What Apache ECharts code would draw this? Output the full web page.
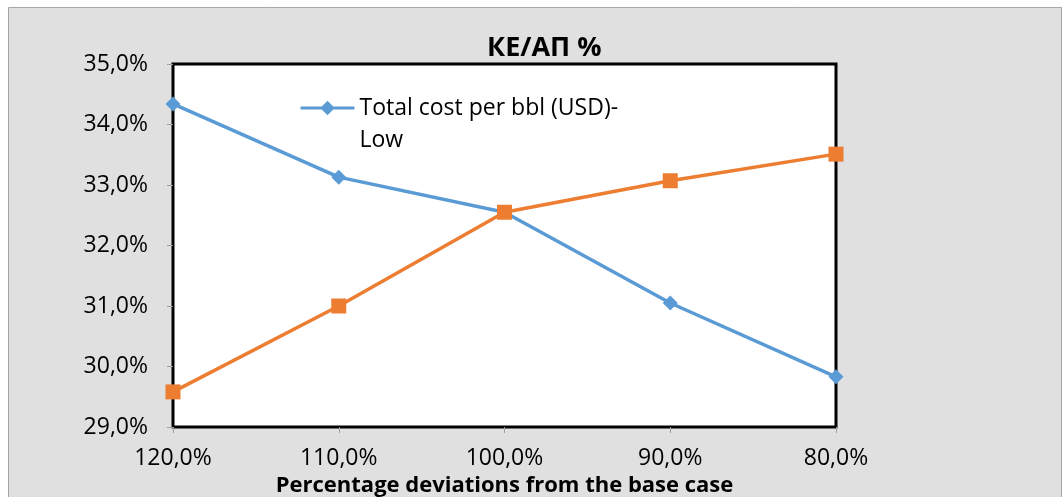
<!DOCTYPE html>
<html>
<head>
<meta charset="utf-8">
<script src="https://cdn.jsdelivr.net/npm/echarts@6/dist/echarts.min.js"></script>
<style>
  html, body { margin: 0; padding: 0; background: #ffffff; }
  #chart { width: 1062px; height: 497px; }
</style>
</head>
<body>
<div id="chart"></div>
<script>
// Deviation steps along the x axis
const categories = ['120,0%', '110,0%', '100,0%', '90,0%', '80,0%'];
// КЕ/АП ratio, in percent
const lowSeries = [34.34, 33.13, 32.55, 31.05, 29.83];
const highSeries = [29.58, 31.0, 32.55, 33.07, 33.51];
// Y axis range and step (percent)
const yMin = 29, yMax = 35, yStep = 1;

const FONT = '"Open Sans", "Noto Sans", sans-serif';
const fmtPct = v => v.toFixed(1).replace('.', ',') + '%';

const chart = echarts.init(document.getElementById('chart'), null, { renderer: 'canvas' });
chart.setOption({
  backgroundColor: '#ffffff',
  animation: false,
  graphic: [{
    type: 'rect',
    left: 8, top: 7, z: -10,
    shape: { width: 1053, height: 500 },
    style: { fill: '#e0e0e0', stroke: '#a6a6a6', lineWidth: 1 }
  }],
  title: {
    text: 'КЕ/АП %',
    left: 487, top: 35, padding: 0,
    textStyle: { fontFamily: FONT, fontWeight: 'bold', fontSize: 27, color: '#000' }
  },
  legend: {
    data: ['Total cost per bbl (USD)-Low'],
    left: 299, top: 60, padding: 0,
    itemWidth: 54, itemHeight: 18,
    lineStyle: { width: 3 },
    // leading blank line keeps the icon level with the first text line
    formatter: () => '\nTotal cost per bbl (USD)-\nLow',
    textStyle: { fontFamily: FONT, fontSize: 23, color: '#000', lineHeight: 32 }
  },
  grid: {
    left: 173, right: 226, top: 64, bottom: 70,
    outerBoundsMode: 'none',
    show: true, backgroundColor: '#ffffff',
    borderColor: '#000000', borderWidth: 3
  },
  xAxis: {
    type: 'category',
    data: categories,
    boundaryGap: false,
    name: 'Percentage deviations from the base case',
    nameLocation: 'middle',
    nameGap: 37,
    nameTextStyle: { fontFamily: FONT, fontWeight: 'bold', fontSize: 22, color: '#000' },
    axisLine: { show: false },
    axisTick: { show: true, length: 6, lineStyle: { color: '#a0a0a0', width: 1 } },
    axisLabel: { margin: 20, fontFamily: FONT, fontSize: 23, color: '#000' },
    splitLine: { show: false }
  },
  yAxis: {
    type: 'value',
    min: yMin, max: yMax, interval: yStep,
    axisLine: { show: false },
    axisTick: { show: true, length: 6, lineStyle: { color: '#a0a0a0', width: 1 } },
    axisLabel: { margin: 25, fontFamily: FONT, fontSize: 23, color: '#000', formatter: fmtPct },
    splitLine: { show: false }
  },
  series: [
    {
      name: 'Total cost per bbl (USD)-Low',
      type: 'line',
      data: lowSeries,
      symbol: 'diamond', symbolSize: 15,
      lineStyle: { color: '#5b9bd5', width: 3.5 },
      itemStyle: { color: '#5b9bd5' },
      z: 3
    },
    {
      name: 'Total cost per bbl (USD)-High',
      type: 'line',
      data: highSeries,
      symbol: 'rect', symbolSize: 15,
      lineStyle: { color: '#ed7d31', width: 3.5 },
      itemStyle: { color: '#ed7d31' },
      z: 4
    }
  ]
});
</script>
</body>
</html>
